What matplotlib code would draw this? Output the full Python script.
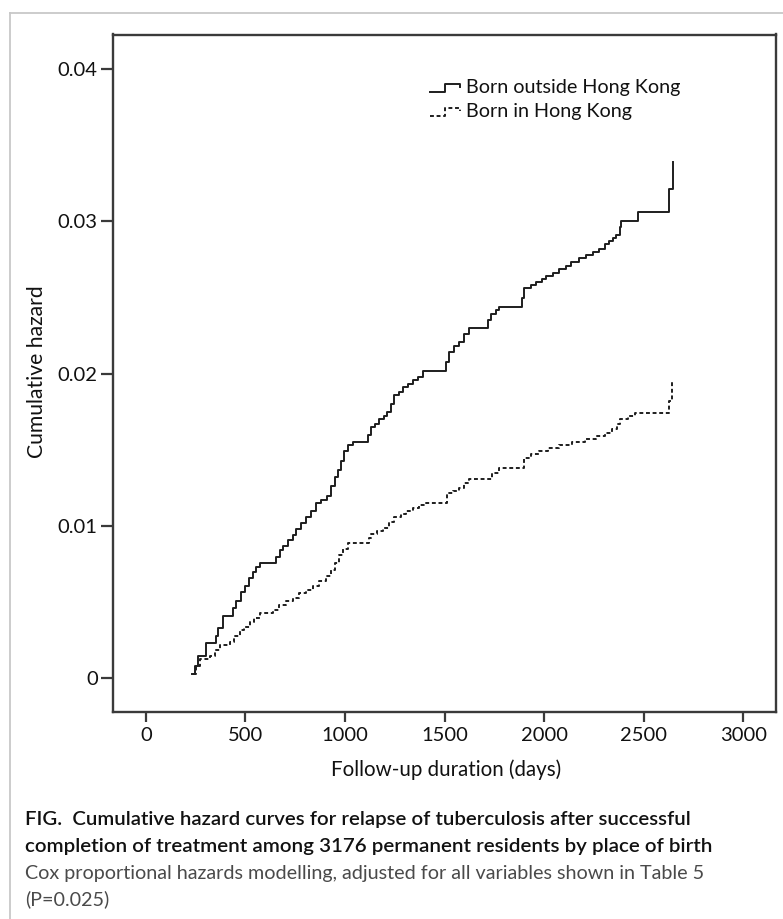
import matplotlib
matplotlib.use('Agg')
import matplotlib.pyplot as plt
from matplotlib.lines import Line2D

# ---------------- data ----------------
outside_days = [230, 245, 262, 300, 350, 362, 387, 440, 455, 480, 500, 520, 537, 555, 575,
                655, 672, 690, 712, 737, 755, 780, 805, 830, 855, 880, 910, 930, 950, 965,
                980, 995, 1015, 1038, 1115, 1131, 1150, 1172, 1195, 1213, 1230, 1245, 1270,
                1290, 1315, 1340, 1365, 1390, 1510, 1523, 1550, 1575, 1600, 1623, 1720, 1735,
                1760, 1775, 1890, 1899, 1935, 1960, 1990, 2010, 2045, 2075, 2110, 2137, 2175,
                2210, 2245, 2275, 2305, 2325, 2345, 2362, 2380, 2387, 2470, 2628, 2648]
outside_hazard = [0.0003, 0.0008, 0.0015, 0.0023, 0.0028, 0.0033, 0.0041, 0.0046, 0.0051,
                  0.0057, 0.0061, 0.0066, 0.0070, 0.0073, 0.0076, 0.0080, 0.0084, 0.0087,
                  0.0091, 0.0094, 0.0098, 0.0102, 0.0106, 0.0110, 0.0115, 0.0117, 0.0120,
                  0.0126, 0.0132, 0.0137, 0.0143, 0.0149, 0.0153, 0.0155, 0.0160, 0.0165,
                  0.0167, 0.0170, 0.0172, 0.0175, 0.0180, 0.0186, 0.0188, 0.0191, 0.0193,
                  0.0196, 0.0198, 0.0202, 0.0208, 0.0214, 0.0218, 0.0221, 0.0226, 0.0230,
                  0.0235, 0.0239, 0.0242, 0.0244, 0.0250, 0.0256, 0.0258, 0.0260, 0.0262,
                  0.0264, 0.0266, 0.0269, 0.0271, 0.0273, 0.0276, 0.0278, 0.0280, 0.0282,
                  0.0285, 0.0287, 0.0289, 0.0291, 0.0296, 0.0300, 0.0306, 0.0321, 0.0339]

inside_days = [236, 250, 270, 320, 345, 371, 421, 445, 471, 495, 521, 545, 571, 638, 670,
               705, 740, 771, 805, 838, 870, 905, 930, 950, 972, 990, 1013, 1120, 1131, 1160,
               1189, 1220, 1248, 1280, 1306, 1340, 1373, 1406, 1515, 1545, 1573, 1600, 1623,
               1740, 1773, 1899, 1935, 1974, 2020, 2074, 2140, 2208, 2260, 2308, 2341, 2365,
               2383, 2420, 2458, 2627, 2641]
inside_hazard = [0.0003, 0.0008, 0.0013, 0.0015, 0.0019, 0.0022, 0.0024, 0.0028, 0.0032,
                 0.0034, 0.0037, 0.0040, 0.0043, 0.0045, 0.0048, 0.0051, 0.0053, 0.0056,
                 0.0058, 0.0061, 0.0064, 0.0067, 0.0071, 0.0076, 0.0081, 0.0085, 0.0089,
                 0.0092, 0.0095, 0.0097, 0.0099, 0.0103, 0.0106, 0.0108, 0.0110, 0.0112,
                 0.0114, 0.0115, 0.0122, 0.0123, 0.0125, 0.0128, 0.0131, 0.0135, 0.0138,
                 0.0145, 0.0147, 0.0149, 0.0151, 0.0153, 0.0155, 0.0157, 0.0159, 0.0161,
                 0.0164, 0.0167, 0.0170, 0.0172, 0.0174, 0.0182, 0.0195]

x_ticks = [0, 500, 1000, 1500, 2000, 2500, 3000]
x_tick_labels = ['0', '500', '1000', '1500', '2000', '2500', '3000']
y_ticks = [0, 0.01, 0.02, 0.03, 0.04]
y_tick_labels = ['0', '0.01', '0.02', '0.03', '0.04']
legend_labels = ['Born outside Hong Kong', 'Born in Hong Kong']
x_label = 'Follow-up duration (days)'
y_label = 'Cumulative hazard'
caption_title = ['FIG.  Cumulative hazard curves for relapse of tuberculosis after successful',
                 'completion of treatment among 3176 permanent residents by place of birth']
caption_note = ['Cox proportional hazards modelling, adjusted for all variables shown in Table 5',
                '(P=0.025)']

# ---------------- figure ----------------
plt.rcParams['font.family'] = ['Lato', 'DejaVu Sans']
W, H = 783, 919
fig = plt.figure(figsize=(W / 100, H / 100), dpi=100)
fig.patch.set_facecolor('white')


def fx(px):
    return px / W


def fy(py):
    return 1 - py / H


ax = fig.add_axes([fx(113), fy(712), (776 - 113) / W, (712 - 34.5) / H])

line_col = '#1e1e1e'
dash_style = (0, (2.0, 1.4))
ax.plot(outside_days, outside_hazard, drawstyle='steps-post', color=line_col, lw=1.4)
ax.plot(inside_days, inside_hazard, drawstyle='steps-post', color=line_col, lw=1.4,
        linestyle=dash_style)

ax.set_xlim(-165, 3165)
ax.set_ylim(-0.0022, 0.04226)
ax.set_xticks(x_ticks)
ax.set_xticklabels(x_tick_labels)
ax.set_yticks(y_ticks)
ax.set_yticklabels(y_tick_labels)

spine_col = '#3a3a3a'
for s in ax.spines.values():
    s.set_color(spine_col)
    s.set_linewidth(1.7)
ax.tick_params(axis='x', length=7.5, width=1.6, color=spine_col, pad=3, labelsize=14.5,
               labelcolor='#111111')
ax.tick_params(axis='y', length=9.0, width=1.6, color=spine_col, pad=2, labelsize=14.5,
               labelcolor='#111111')

# axis titles
fig.text(fx(446.5), fy(770), x_label, ha='center', va='center', fontsize=14.8, color='#111111')
fig.text(fx(37), fy(372), y_label, ha='center', va='center', rotation=90, fontsize=15.2,
         color='#111111')

# legend (step-shaped glyphs)
leg_rows = [88, 112]
leg_styles = ['-', dash_style]
for lab, ry, ls in zip(legend_labels, leg_rows, leg_styles):
    gx = [430, 445, 445, 460, 460]
    gy = [ry + 4, ry + 4, ry - 4, ry - 4, ry - 1]
    fig.add_artist(Line2D([fx(v) for v in gx], [fy(v) for v in gy], color=line_col,
                          lw=1.4, linestyle=ls))
    fig.text(fx(466), fy(ry), lab, ha='left', va='center', fontsize=14.2, color='#111111')

# outer frame lines
frame_col = '#c8c8c8'
fig.add_artist(Line2D([fx(10), 1.0], [fy(13), fy(13)], color=frame_col, lw=1.3))
fig.add_artist(Line2D([fx(10), fx(10)], [fy(13), 0.0], color=frame_col, lw=1.3))

# caption
renderer = fig.canvas.get_renderer()
title_targets = [665, 685]
note_targets = [684, None]
base_y = [825, 852, 879, 905]
for i, (line, tw) in enumerate(zip(caption_title, title_targets)):
    t = fig.text(fx(25), fy(base_y[i]), line, ha='left', va='baseline', fontsize=14,
                 color='#111111', fontweight='semibold')
    w = t.get_window_extent(renderer).width
    t.set_fontsize(14 * tw / w)
note_fs = None
for j, (line, tw) in enumerate(zip(caption_note, note_targets)):
    t = fig.text(fx(25), fy(base_y[2 + j]), line, ha='left', va='baseline', fontsize=14,
                 color='#4a4a4a', fontweight='normal')
    if tw is not None:
        w = t.get_window_extent(renderer).width
        note_fs = 14 * tw / w
    t.set_fontsize(note_fs)

fig.savefig('out.png', dpi=100, facecolor='white')
